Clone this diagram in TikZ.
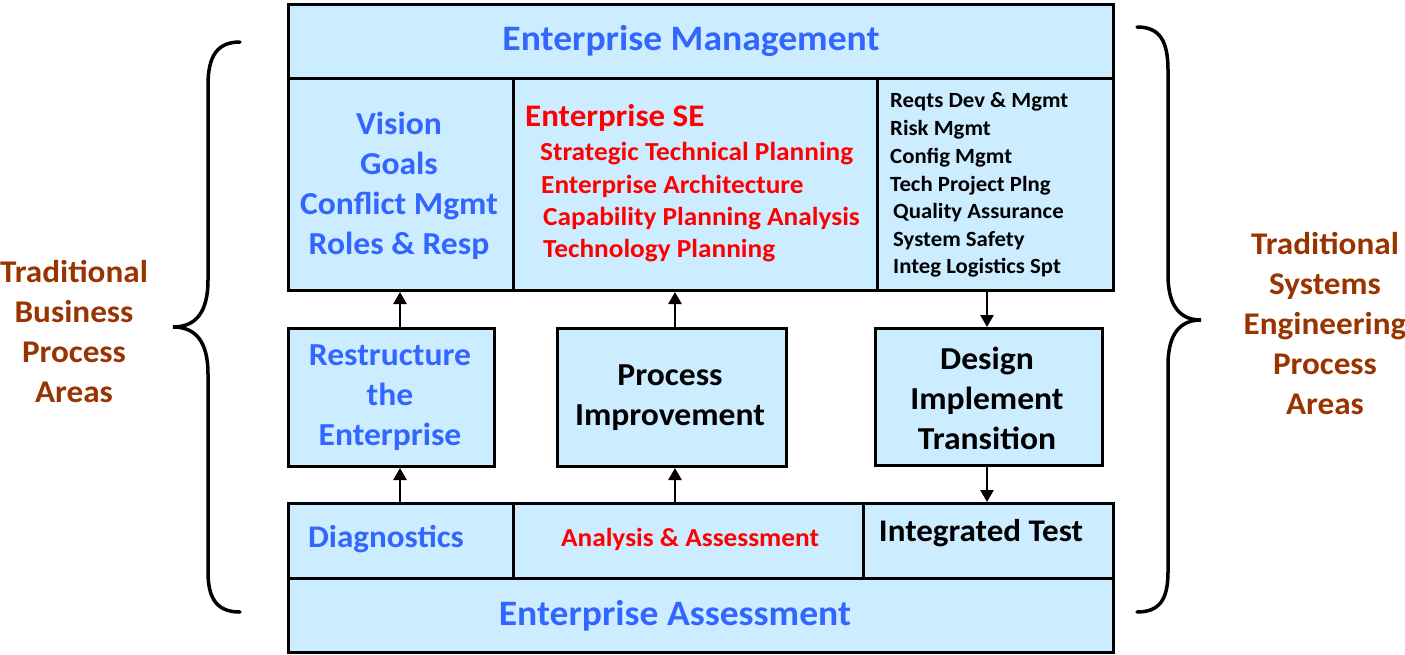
\documentclass[tikz,border=0pt]{standalone}
\usepackage{fontspec}
\setmainfont{Carlito}[FakeStretch=1.05]
\usetikzlibrary{arrows.meta}
\definecolor{fillb}{RGB}{204,236,255}
\definecolor{tblue}{RGB}{51,102,255}
\definecolor{tred}{RGB}{255,0,0}
\definecolor{tbrown}{RGB}{153,51,0}
\begin{document}
\begin{tikzpicture}[x=1pt,y=-1pt,
  cell/.style={draw=black, fill=fillb, line width=3pt, inner sep=0pt, anchor=north west, align=center},
  bigtxt/.style={font=\fontsize{35.8}{40}\selectfont\bfseries},
  midtxt/.style={font=\fontsize{32}{40}\selectfont\bfseries},
  redtxt/.style={font=\fontsize{26}{32}\selectfont\bfseries, text=tred, anchor=west, inner sep=0pt},
  listtxt/.style={font=\fontsize{21.7}{28}\selectfont\bfseries, text=black, anchor=west, inner sep=0pt},
  sidetxt/.style={font=\fontsize{31.6}{40}\selectfont\bfseries, text=tbrown, align=center, inner sep=0pt},
  arr/.style={line width=2.5pt, -{Triangle[width=13pt,length=12pt]}},
  brace/.style={line width=3.5pt, line cap=round}]
\useasboundingbox (0,0) rectangle (1405,654);

% top
\node[cell, minimum width=825pt, minimum height=74pt] (em) at (287,3) {};
\node[bigtxt, text=tblue] (emt) at (691,41) {Enterprise Management};

% row 2
\node[cell, minimum width=225pt, minimum height=212pt] (vis) at (287,77) {};
\node[midtxt, text=tblue, align=center] (vist) at (399,186) {Vision\\Goals\\Conflict Mgmt\\Roles \& Resp};
\node[cell, minimum width=364pt, minimum height=212pt] (ese) at (512,77) {};
\node[redtxt, font=\fontsize{31.4}{36}\selectfont\bfseries] (eset) at (525,118) {Enterprise SE};
\node[redtxt] (ese1) at (540,154) {Strategic Technical Planning};
\node[redtxt] (ese2) at (541,186) {Enterprise Architecture};
\node[redtxt] (ese3) at (543,219) {Capability Planning Analysis};
\node[redtxt] (ese4) at (543,251) {Technology Planning};
\node[cell, minimum width=236pt, minimum height=212pt] (rl) at (876,77) {};
\node[listtxt] (rl1) at (890,102) {Reqts Dev \& Mgmt};
\node[listtxt] (rl2) at (890,130) {Risk Mgmt};
\node[listtxt] (rl3) at (890,158) {Config Mgmt};
\node[listtxt] (rl4) at (890,186) {Tech Project Plng};
\node[listtxt] (rl5) at (893,213) {Quality Assurance};
\node[listtxt] (rl6) at (893,241) {System Safety};
\node[listtxt] (rl7) at (893,268) {Integ Logistics Spt};

% middle boxes
\node[cell, minimum width=206pt, minimum height=138pt] (restr) at (287,327) {};
\node[midtxt, text=tblue, align=center] (restrt) at (390,398) {Restructure\\the\\Enterprise};
\node[cell, minimum width=229pt, minimum height=138pt] (pi) at (556,327) {};
\node[midtxt, text=black, align=center] (pit) at (670,398) {Process\\Improvement};
\node[cell, minimum width=227pt, minimum height=137pt] (dit) at (874,327) {};
\node[midtxt, text=black, align=center] (ditt) at (987,398) {Design\\Implement\\Transition};

% bottom
\node[cell, minimum width=225pt, minimum height=75pt] (diag) at (287,502) {};
\node[midtxt, font=\fontsize{31.5}{36}\selectfont\bfseries, text=tblue] (diagt) at (386,539) {Diagnostics};
\node[cell, minimum width=350pt, minimum height=75pt] (aa) at (512,502) {};
\node[redtxt, anchor=center] (aat) at (690,539) {Analysis \& Assessment};
\node[cell, minimum width=250pt, minimum height=75pt] (it) at (862,502) {};
\node[midtxt, font=\fontsize{31.5}{36}\selectfont\bfseries, text=black] (itt) at (981,533) {Integrated Test};
\node[cell, minimum width=825pt, minimum height=74pt] (ea) at (287,577) {};
\node[bigtxt, text=tblue] (eat) at (675,616) {Enterprise Assessment};

% arrows
\coordinate (a1) at (400,0);
\coordinate (a2) at (675,0);
\coordinate (a3) at (987,0);
\draw[arr] (diag.north -| a1) -- (restr.south -| a1);
\draw[arr] (restr.north -| a1) -- (vis.south -| a1);
\draw[arr] (aa.north -| a2) -- (pi.south -| a2);
\draw[arr] (pi.north -| a2) -- (ese.south -| a2);
\draw[arr] (rl.south -| a3) -- (dit.north -| a3);
\draw[arr] (dit.south -| a3) -- (it.north -| a3);

% braces
\draw[brace] (240,42) .. controls (218,42) and (208,55) .. (208,85) -- (208,280) .. controls (208,312) and (196,327) .. (173,327) .. controls (196,327) and (208,342) .. (208,374) -- (208,572) .. controls (208,600) and (218,612) .. (240,612);
\draw[brace] (1137,27) .. controls (1159,27) and (1168,40) .. (1168,70) -- (1168,275) .. controls (1168,306) and (1180,320) .. (1201,320) .. controls (1180,320) and (1168,334) .. (1168,365) -- (1168,572) .. controls (1168,600) and (1159,612) .. (1137,612);

% side labels
\node[sidetxt] (lt) at (74,331) {Traditional\\Business\\Process\\Areas};
\node[sidetxt] (rt) at (1325,323) {Traditional\\Systems\\Engineering\\Process\\Areas};
\end{tikzpicture}
\end{document}
